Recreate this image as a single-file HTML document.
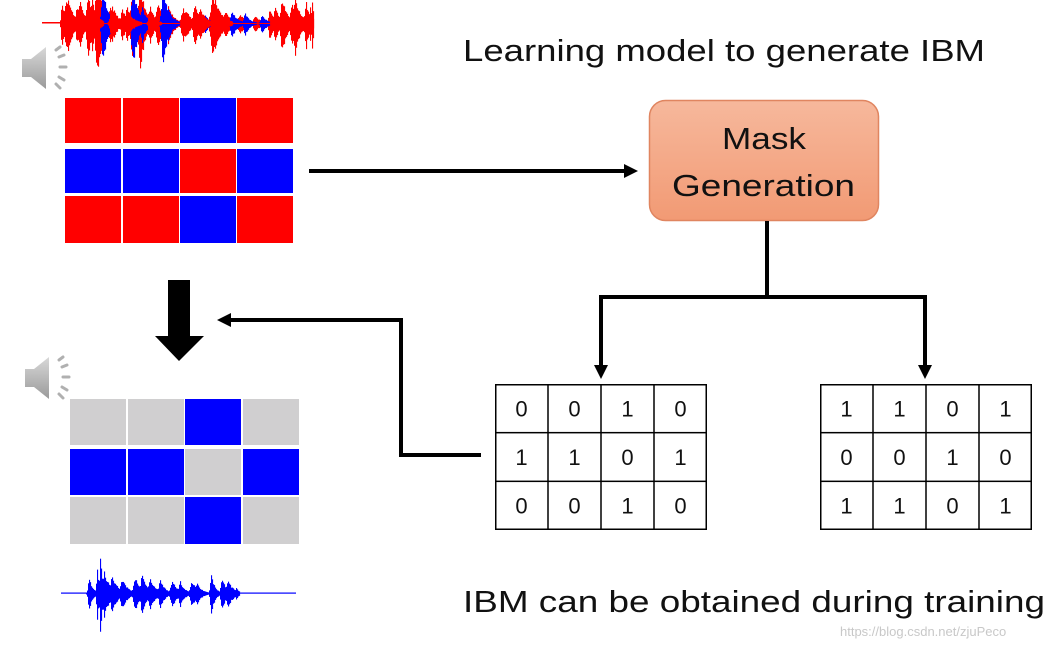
<!DOCTYPE html>
<html><head><meta charset="utf-8"><style>
html,body{margin:0;padding:0;background:#fff;width:1051px;height:649px;overflow:hidden}
svg{display:block}
text{font-family:"Liberation Sans","DejaVu Sans",sans-serif}
</style></head><body>
<svg id="s" width="1051" height="649" viewBox="0 0 1051 649" xmlns="http://www.w3.org/2000/svg">
<defs>
<linearGradient id="g" x1="0" y1="0" x2="0" y2="1"><stop offset="0" stop-color="#f6b89c"/><stop offset="1" stop-color="#f29a74"/></linearGradient>
<linearGradient id="sp" x1="0" y1="0" x2="0" y2="1"><stop offset="0" stop-color="#d8d8d8"/><stop offset="1" stop-color="#9a9a9a"/></linearGradient>
</defs>
<g id="wf"></g>
<g transform="translate(22,47)">
<path d="M0,12 h9 l15,-12 v42 l-15,-12 h-9z" fill="url(#sp)"/>
<g stroke="#b0b0b0" stroke-width="3" stroke-linecap="round"><line x1="34" y1="3" x2="38" y2="0"/><line x1="37" y1="10" x2="42" y2="8"/><line x1="38" y1="20" x2="44" y2="20"/><line x1="37" y1="30" x2="42" y2="33"/><line x1="34" y1="37" x2="38" y2="41"/></g>
</g>
<g transform="translate(25,357)">
<path d="M0,12 h9 l15,-12 v42 l-15,-12 h-9z" fill="url(#sp)"/>
<g stroke="#b0b0b0" stroke-width="3" stroke-linecap="round"><line x1="34" y1="3" x2="38" y2="0"/><line x1="37" y1="10" x2="42" y2="8"/><line x1="38" y1="20" x2="44" y2="20"/><line x1="37" y1="30" x2="42" y2="33"/><line x1="34" y1="37" x2="38" y2="41"/></g>
</g>
<g id="grids"></g>
<line x1="309" y1="171" x2="626" y2="171" stroke="#000" stroke-width="4"/>
<polygon points="638,171 624,164 624,178" fill="#000"/>
<rect x="649.5" y="100.5" width="229" height="120" rx="16" fill="url(#g)" stroke="#e08560" stroke-width="1.5"/>
<text x="722" y="149" font-size="31" textLength="84" lengthAdjust="spacingAndGlyphs" fill="#111">Mask</text>
<text x="672" y="196" font-size="31" textLength="183" lengthAdjust="spacingAndGlyphs" fill="#111">Generation</text>
<g stroke="#000" stroke-width="4" fill="none">
<line x1="767" y1="221" x2="767" y2="299"/>
<polyline points="601,368 601,297 925,297 925,368"/>
<polyline points="481,455 401,455 401,320 230,320"/>
</g>
<polygon points="601,379 594,365 608,365" fill="#000"/>
<polygon points="925,379 918,365 932,365" fill="#000"/>
<polygon points="217,320 231,313 231,327" fill="#000"/>
<rect x="168" y="280" width="22" height="57" fill="#000"/>
<polygon points="155,336 204,336 179,361" fill="#000"/>
<text x="463" y="61" font-size="31" textLength="522" lengthAdjust="spacingAndGlyphs" fill="#111">Learning model to generate IBM</text>
<text x="463" y="612" font-size="31" textLength="582" lengthAdjust="spacingAndGlyphs" fill="#111">IBM can be obtained during training</text>
<text x="840" y="636" font-size="13" fill="#c8c8c8">https://blog.csdn.net/zjuPeco</text>
</svg>
<script>
var NS="http://www.w3.org/2000/svg",gg=document.getElementById('grids'),ww=document.getElementById('wf');
function R(x,y,wd,h,f,p){var r=document.createElementNS(NS,'rect');r.setAttribute('x',x);r.setAttribute('y',y);r.setAttribute('width',wd);r.setAttribute('height',h);r.setAttribute('fill',f);(p||gg).appendChild(r);}
var Rd='#ff0000',B='#0000ff',G='#d0cfd0';
var topG=[[Rd,Rd,B,Rd],[B,B,Rd,B],[Rd,Rd,B,Rd]],botG=[[G,G,B,G],[B,B,G,B],[G,G,B,G]];
var cx=[65,123,180,237],ry=[98,149,196],rh=[45,44,47];
for(var r=0;r<3;r++)for(var c=0;c<4;c++)R(cx[c],ry[r],56,rh[r],topG[r][c]);
var bx=[70,128,185,243],by=[399,449,497],bh=[46,46,47];
for(r=0;r<3;r++)for(c=0;c<4;c++)R(bx[c],by[r],56,bh[r],botG[r][c]);
function T(x,y,s){var t=document.createElementNS(NS,'text');t.setAttribute('x',x);t.setAttribute('y',y);t.setAttribute('font-size',22);t.setAttribute('text-anchor','middle');t.setAttribute('fill','#111');t.textContent=s;gg.appendChild(t);}
function tab(x0,y0,d){var W=212,H=146;
 R(x0,y0,W,H,'#000');R(x0+1.5,y0+1.5,W-3,H-3,'#fff');
 for(var i=1;i<4;i++)R(x0+i*W/4-0.75,y0,1.5,H,'#000');
 for(i=1;i<3;i++)R(x0,y0+i*H/3-0.75,W,1.5,'#000');
 for(var r=0;r<3;r++)for(var c=0;c<4;c++)T(x0+W/8+c*W/4,y0+H/6+r*H/3+8,d[r][c]);}
tab(495,384,[[0,0,1,0],[1,1,0,1],[0,0,1,0]]);
tab(820,384,[[1,1,0,1],[0,0,1,0],[1,1,0,1]]);
var seed=7;function rnd(){seed=(seed*16807)%2147483647;return seed/2147483647;}
function bursts(list,base){return function(x){var v=base;for(var i=0;i<list.length;i++){var b=list[i];var d=(x-b[0])/b[1];if(d>-1.2&&d<3)v=Math.max(v,b[2]*(d<0?Math.exp(-d*d*4):Math.exp(-d*0.9)));}return v;};}
function wave(x0,x1,cy,col,up,dn,env){for(var x=x0;x<x1;x+=1){var e=env(x);var n=0.75+0.25*rnd();R(x,cy-up*e*n,1.1,(up+dn)*e*n+1,col,ww);}}
R(42,22,272,1.5,'#ff0000',ww);
wave(60,314,23,'#ff0000',30,36,bursts([[62,3,0.7],[68,5,0.8],[77,4,0.6],[88,5,0.9],[97,6,1.4],[110,5,0.6],[122,4,0.5],[132,5,0.9],[140,5,1.3],[150,4,0.6],[158,6,0.6],[168,5,0.6],[183,5,0.5],[195,6,0.6],[213,7,0.9],[225,5,0.4],[240,6,0.3],[255,5,0.25],[270,4,0.5],[282,5,0.8],[295,5,0.9],[306,4,0.7],[312,2,0.8]],0.03));
seed=3;
wave(90,270,23,'#0000ff',28,34,bursts([[103,5,1.2],[106,4,0.7],[133,5,1.2],[142,4,0.6],[163,5,1.2],[168,4,0.6],[205,4,0.3],[232,5,0.4],[245,4,0.35],[262,4,0.3]],0.0));
seed=11;
wave(60,314,23,'#ff0000',26,28,bursts([[66,5,0.9],[80,4,0.9],[92,4,1.0],[112,5,0.7],[127,5,0.6],[150,4,0.5],[186,5,0.5],[200,5,0.6],[215,6,0.9],[275,5,0.6],[292,6,0.7],[310,2,0.8]],0.0));
R(61,592.5,235,1.2,'#0000ff',ww);
seed=5;
wave(86,240,593,'#0000ff',20,22,bursts([[89,3,0.8],[97,2,1.3],[100,2,2.1],[104,5,1.1],[112,5,0.9],[122,5,0.7],[135,5,0.8],[142,4,1.0],[150,5,0.7],[160,4,0.7],[172,5,0.6],[180,4,0.6],[192,5,0.6],[197,4,0.5],[211,3,1.0],[222,4,0.7],[228,5,0.6],[236,2,0.3]],0.03));
</script>
</body></html>
